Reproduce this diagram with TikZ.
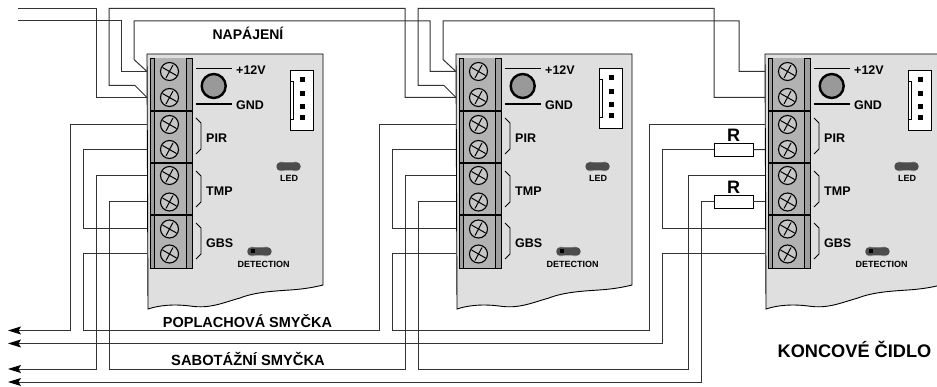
\documentclass[tikz,border=0pt]{standalone}
\usepackage{fontspec}
\setmainfont{Liberation Sans}
\usetikzlibrary{arrows.meta}
\tikzset{
  wire/.style={line width=1pt,black!80},
  tip/.style={-{Stealth[length=13pt,width=8pt,inset=2.5pt,black]}},
  screw/.style={circle,draw,line width=1.1pt,fill=gray!45,minimum size=18pt,inner sep=0pt,
    path picture={\draw[line width=1pt] (path picture bounding box.center) +(-7,-4) -- +(7,4) +(-3.5,6.5) -- +(3.5,-6.5);}},
  res/.style={draw,fill=white,line width=.8pt,minimum width=39pt,minimum height=13.5pt,inner sep=0pt},
  tag/.style={font=\bfseries\fontsize{12.5}{12.5}\selectfont,inner sep=0pt},
  small/.style={font=\bfseries\fontsize{9}{9}\selectfont,inner sep=0pt},
  jumper/.style={draw=none,fill=black!70,rounded corners=3.5pt,minimum width=24pt,minimum height=8pt,inner sep=0pt},
  bigR/.style={font=\bfseries\fontsize{18}{18}\selectfont,inner sep=1pt}
}
\begin{document}
\begin{tikzpicture}[x=1pt,y=-1pt]
  \clip (0,0) rectangle (937,387);
  \foreach \b/\x/\cy in {a/0/0,b/309/-2,c/618/0}{
    \begin{scope}[shift={(\x,0)}]
      \draw[fill=gray!25,line width=.9pt] (147,54) -- (323,54) -- (323,285) .. controls (315,287) and (305,289) .. (290,290) .. controls (275,291) and (255,292) .. (240,298) .. controls (222,303) and (210,309) .. (190,306) .. controls (175,304) and (160,305) .. (148,309) -- cycle; %board
      \draw[fill=gray!75,line width=.9pt] (150,58) rectangle (192,268); %terminal block
      \fill[gray!60] (155,58) rectangle (186,268);
      \draw[line width=.6pt] (154.5,58) -- (154.5,268) (186,58) -- (186,268);
      \draw[line width=1.1pt] (150,111) -- (192,111) (150,163) -- (192,163) (150,215) -- (192,215);
      \foreach \n/\y in {1/71.5,2/97.5,3/124.5,4/149.5,5/175.5,6/202,7/229,8/254}{
        \node[screw] (\b-s\n) at (169.5,\y) {};
        \coordinate (\b-t\n) at (147,\y);
      }
      \node[circle,draw,line width=2.4pt,fill=gray!80,minimum size=24pt,inner sep=0pt] (\b-pot) at (213.7,86) {}; %trimmer
      \draw[line width=1.2pt] (196,68.5) -- (232,68.5) (196,104) -- (232,104);
      \node[tag,anchor=west] (\b-plus) at (236,70) {+12V};
      \node[tag,anchor=west] (\b-gnd) at (236,105) {GND};
      \foreach \t/\y in {PIR/136,TMP/189,GBS/241}{
        \draw[line width=.9pt] (196,\y-18) -- (201,\y-13) -- (201,\y+13) -- (196,\y+18);
        \node[tag,anchor=west] (\b-\t) at (206,\y+2) {\t};
      }
      \draw[fill=white,line width=.8pt] (290,70+\cy) rectangle (313,130+\cy); %connector
      \draw[line width=.8pt] (290,81+\cy) -- (293,81+\cy) -- (293,119+\cy) -- (290,119+\cy);
      \foreach \y in {80,94,106.5,118}{
        \fill (299.5,\y-2.5+\cy) rectangle (304.5,\y+2.5+\cy);
      }
      \fill[gray!75] (281.5,166.5) circle (5) (295.5,166.5) circle (5) (252,251.5) circle (5) (266,251.5) circle (5); %pins
      \node[jumper] (\b-led) at (288.5,166.5) {};
      \node[small] (\b-ledtxt) at (289,178) {LED};
      \node[jumper] (\b-det) at (259.5,251.5) {};
      \fill (251,249.5) rectangle (255,253.5);
      \node[small] (\b-dettxt) at (263.5,264) {DETECTION};
    \end{scope}
  }
  % free ends
  \coordinate (pwrA) at (18,8.5);
  \coordinate (pwrB) at (18,21);
  \coordinate (almA) at (8,330.5);
  \coordinate (almB) at (8,343.5);
  \coordinate (sabA) at (8,369);
  \coordinate (sabB) at (8,382);
  % resistors
  \node[res,label={[bigR]above:R}] (r1) at (733.5,150) {};
  \node[res,label={[bigR]above:R}] (r2) at (733.5,202) {};
  % power
  \draw[wire] (a-t2) -- ++(-51,0) |- (pwrA);
  \draw[wire] (a-t1) -- ++(-26,0) |- (pwrB);
  \foreach \p/\q in {a/b,b/c}{
    \draw[wire] (\p-t2) -- ++(-12,-12) -- ++(-26,0) -- ++(0,-77) -- ++(296,0) |- (\q-t2);
    \draw[wire] (\p-t1) -- ++(-13,-12) -- ++(0,-38.5) -- ++(296,0) |- (\q-t1);
  }
  % loops
  \draw[wire,tip] (a-t3) -- ++(-77,0) |- (almA);
  \draw[wire,tip] (a-t5) -- ++(-51,0) |- (sabA);
  \foreach \p in {a,b}{
    \draw[wire] (\p-t4) -- ++(-64,0) |- (\p-t7);
  }
  \draw[wire] (a-t8) -- ++(-64,0) -- ++(0,76.5) -- ++(296,0) |- (b-t3);
  \draw[wire] (b-t8) -- ++(-64,0) -- ++(0,76.5) -- ++(257,0) |- (c-t3);
  \draw[wire] (a-t6) -- ++(-38,0) -- ++(0,167) -- ++(296,0) |- (b-t5);
  \draw[wire] (b-t6) -- ++(-38,0) -- ++(0,167) -- ++(270,0) |- (c-t5);
  \draw[wire,tip] (c-t8) -- ++(-103,0) |- (almB);
  \draw[wire] (c-t4) -- (r1);
  \draw[wire] (r1) -- ++(-71.5,0) |- (c-t7);
  \draw[wire] (c-t6) -- (r2);
  \draw[wire,tip] (r2.west) -- ++(-12,0) |- (sabB);
  % captions
  \node[font=\bfseries\fontsize{14}{14}\selectfont,inner sep=0pt] (napajeni) at (248,33) {NAPÁJENÍ};
  \node[font=\bfseries\fontsize{14.5}{14.5}\selectfont,inner sep=0pt] (poplach) at (247.5,321) {POPLACHOVÁ SMYČKA};
  \node[font=\bfseries\fontsize{14.7}{14.7}\selectfont,inner sep=0pt] (sabotaz) at (248,359) {SABOTÁŽNÍ SMYČKA};
  \node[font=\bfseries\fontsize{18.2}{18.2}\selectfont,inner sep=0pt] (koncove) at (854.5,349) {KONCOVÉ ČIDLO};
\end{tikzpicture}
\end{document}
